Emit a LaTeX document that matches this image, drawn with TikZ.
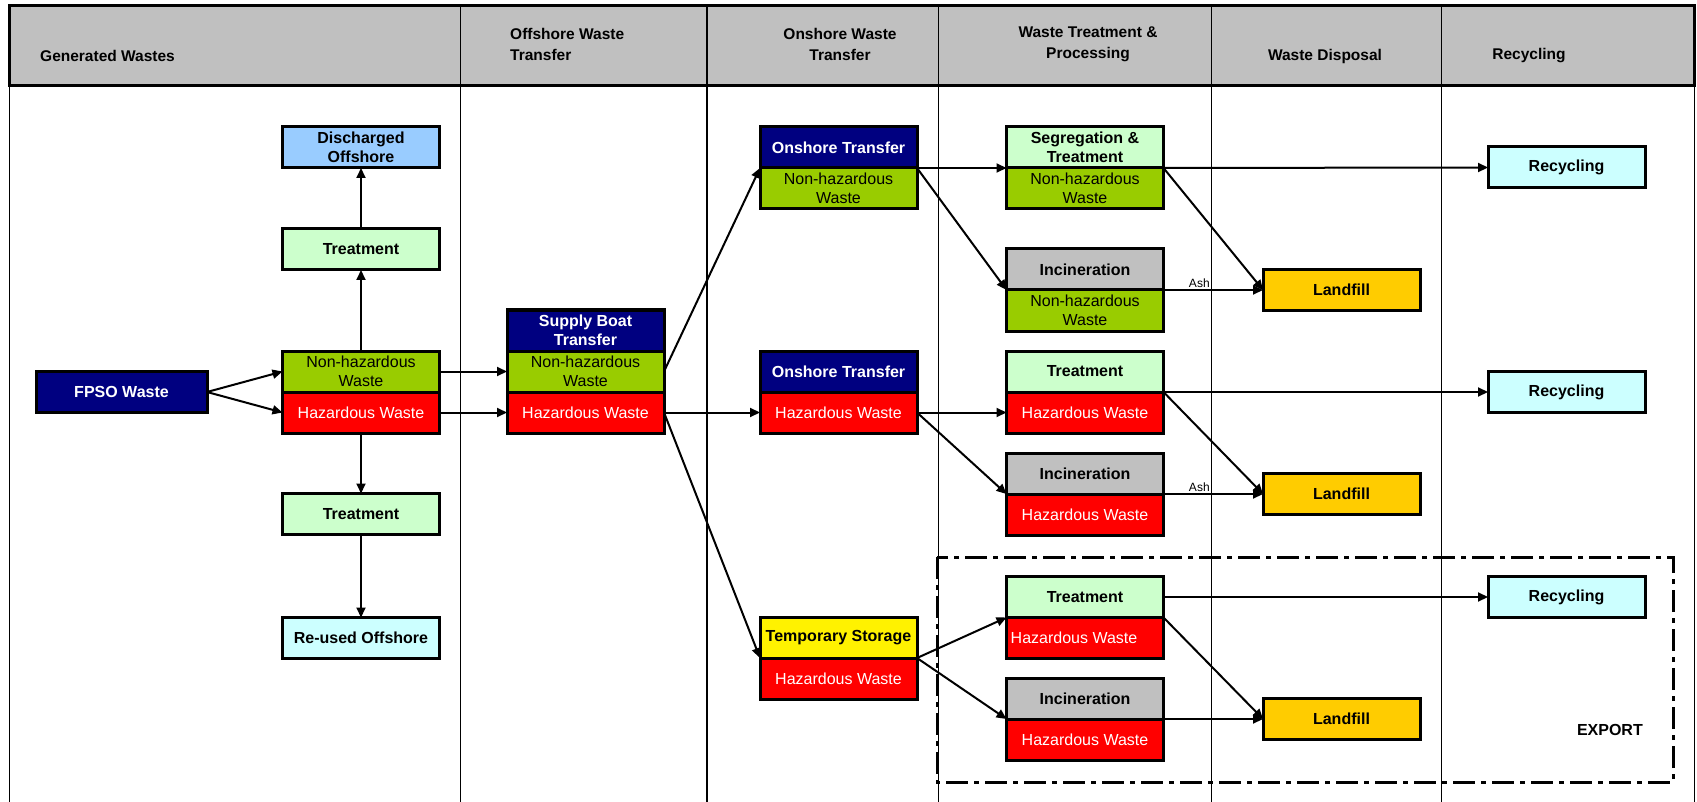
\documentclass[tikz,border=0pt]{standalone}
\usepackage{fontspec}
\setmainfont{Liberation Sans}
\usepackage{tikz}
\usetikzlibrary{positioning, arrows.meta}
\definecolor{navyblue}{RGB}{0,0,128}
\definecolor{nhgreen}{RGB}{153,204,0}
\definecolor{trgreen}{RGB}{204,255,204}
\definecolor{skyblue}{RGB}{153,204,255}
\definecolor{paleblue}{RGB}{204,255,255}
\definecolor{ashgrey}{RGB}{192,192,192}
\definecolor{amber}{RGB}{255,204,0}
\newcommand{\boxfont}{\fontsize{16}{19}\selectfont}
\newcommand{\headfont}{\fontsize{15.5}{21}\selectfont\bfseries}
\tikzstyle{cell}     = [rectangle, draw=black, line width=3pt, minimum width=157pt, minimum height=41pt, inner sep=0pt, outer sep=0pt, align=center, font=\boxfont]
\tikzstyle{boldcell} = [cell, font=\boxfont\bfseries]
\tikzstyle{carrier}  = [boldcell, fill=navyblue, text=white]
\tikzstyle{nonhaz}   = [cell, fill=nhgreen]
\tikzstyle{haz}      = [cell, fill=red, text=white]
\tikzstyle{treat}    = [boldcell, fill=trgreen]
\tikzstyle{burn}     = [boldcell, fill=ashgrey]
\tikzstyle{landfill} = [boldcell, fill=amber]
\tikzstyle{recycle}  = [boldcell, fill=paleblue]
\tikzstyle{heading}  = [font=\headfont, inner sep=0pt, align=center]
\tikzstyle{arrow}    = [line width=2pt, -{Triangle[length=10pt,width=9pt]}]

\begin{document}
\begin{tikzpicture}[x=1pt, y=-1pt]
    \useasboundingbox (0,0) rectangle (1697,802);
    % table frame
    \draw [fill=ashgrey, line width=3pt] (9,6) rectangle (1694,86);
    \foreach \x in {9,460,938,1211,1441,1694}
        \draw [line width=1pt] (\x,6) -- (\x,802);
    \draw [line width=2.5pt] (707,6) -- (707,802);

    \node (hGen) [heading, anchor=west] at (40,56)  {Generated Wastes};
    \node (hOff) [heading, anchor=west, align=left] at (510,44) {Offshore Waste\\Transfer};
    \node (hOn)  [heading] at (840,44)  {Onshore Waste\\Transfer};
    \node (hTrt) [heading] at (1088,44) {Waste Treatment \&\\Processing};
    \node (hDis) [heading] at (1325,56) {Waste Disposal};
    \node (hRec) [heading] at (1529,56) {Recycling};

    % generated wastes
    \node (fpso)  [carrier, minimum width=171pt] at (121.5,392) {FPSO Waste};
    \node (gNh)   [nonhaz] at (361,371.5) {Non-hazardous\\Waste};
    \node (gHz)   [haz, below=0pt of gNh] {Hazardous Waste};
    \node (trtUp) [treat] at (361,249.5) {Treatment};
    \node (disch) [boldcell, fill=skyblue] at (361,147.5) {Discharged\\Offshore};
    \node (trtLo) [treat] at (361,514) {Treatment};
    \node (reuse) [recycle] at (361,638) {Re-used Offshore};

    % offshore transfer
    \node (boat)   [carrier] at (585.5,330.5) {Supply Boat\\Transfer};
    \node (boatNh) [nonhaz, below=0pt of boat] {Non-hazardous\\Waste};
    \node (boatHz) [haz, below=0pt of boatNh] {Hazardous Waste};

    % onshore transfer
    \node (shoreA)   [carrier] at (838.5,147.5) {Onshore Transfer};
    \node (shoreANh) [nonhaz, below=0pt of shoreA] {Non-hazardous\\Waste};
    \node (shoreB)   [carrier] at (838.5,371.5) {Onshore Transfer};
    \node (shoreBHz) [haz, below=0pt of shoreB] {Hazardous Waste};
    \node (store)    [boldcell, fill=yellow] at (838.5,637.5) {Temporary Storage};
    \node (storeHz)  [haz, below=0pt of store] {Hazardous Waste};

    % treatment & processing
    \node (seg)     [treat] at (1085,147.5) {Segregation \&\\Treatment};
    \node (segNh)   [nonhaz, below=0pt of seg] {Non-hazardous\\Waste};
    \node (incA)    [burn] at (1085,269.5) {Incineration};
    \node (incANh)  [nonhaz, below=0pt of incA] {Non-hazardous\\Waste};
    \node (trtB)    [treat] at (1085,371.5) {Treatment};
    \node (trtBHz)  [haz, below=0pt of trtB] {Hazardous Waste};
    \node (incB)    [burn] at (1085,473.5) {Incineration};
    \node (incBHz)  [haz, below=0pt of incB] {Hazardous Waste};
    \node (trtC)    [treat] at (1085,597) {Treatment};
    \node (trtCHz)  [haz, below=0pt of trtC] {};
    \node (trtCTxt) [font=\boxfont, text=white, anchor=west, inner sep=0pt] at ([xshift=4pt]trtCHz.west) {Hazardous Waste};
    \node (incC)    [burn] at (1085,698.5) {Incineration};
    \node (incCHz)  [haz, below=0pt of incC] {Hazardous Waste};

    % disposal and recycling
    \node (fillA) [landfill] at (1341.5,290) {Landfill};
    \node (fillB) [landfill] at (1341.5,494) {Landfill};
    \node (fillC) [landfill] at (1341.5,719) {Landfill};
    \node (recA)  [recycle] at (1566.5,167.5) {Recycling};
    \node (recB)  [recycle] at (1566.5,392) {Recycling};
    \node (recC)  [recycle] at (1566.5,597) {Recycling};

    % export zone
    \draw [line width=3pt, dash pattern=on 22pt off 6pt on 5pt off 6pt] (937,557) rectangle (1673,782);
    \node (export) [font=\boxfont\bfseries, anchor=east, inner sep=0pt] at (1643,730) {EXPORT};

    \draw [arrow] (fpso.east) -- (gNh.west);
    \draw [arrow] (fpso.east) -- (gHz.west);
    \draw [arrow] (gNh.north) -- (trtUp.south);
    \draw [arrow] (trtUp.north) -- (disch.south);
    \draw [arrow] (gHz.south) -- (trtLo.north);
    \draw [arrow] (trtLo.south) -- (reuse.north);
    \draw [arrow] (gNh.east) -- (boatNh.west);
    \draw [arrow] (gHz.east) -- (boatHz.west);

    \draw [arrow] (boatNh.east) -- (shoreA.south west);
    \draw [arrow] (boatHz.east) -- (shoreBHz.west);
    \draw [arrow] (boatHz.east) -- (store.south west);

    \draw [arrow] (shoreA.south east) -- (seg.south west);
    \draw [arrow] (shoreA.south east) -- (incA.south west);
    \draw [arrow] (shoreBHz.east) -- (trtBHz.west);
    \draw [arrow] (shoreBHz.east) -- (incB.south west);
    \draw [arrow] (store.south east) -- (trtC.south west);
    \draw [arrow] (store.south east) -- (incC.south west);

    \draw [arrow] (seg.south east) -- (recA.west);
    \draw [arrow] (seg.south east) -- (fillA.west);
    \draw [arrow] (incA.south east) -- node [above, pos=0.36, font=\fontsize{12}{12}\selectfont, inner sep=1pt] {Ash} (fillA.west);
    \draw [arrow] (trtB.south east) -- (recB.west);
    \draw [arrow] (trtB.south east) -- (fillB.west);
    \draw [arrow] (incB.south east) -- node [above, pos=0.36, font=\fontsize{12}{12}\selectfont, inner sep=1pt] {Ash} (fillB.west);
    \draw [arrow] (trtC.east) -- (recC.west);
    \draw [arrow] (trtC.south east) -- (fillC.west);
    \draw [arrow] (incC.south east) -- (fillC.west);
\end{tikzpicture}
\end{document}
